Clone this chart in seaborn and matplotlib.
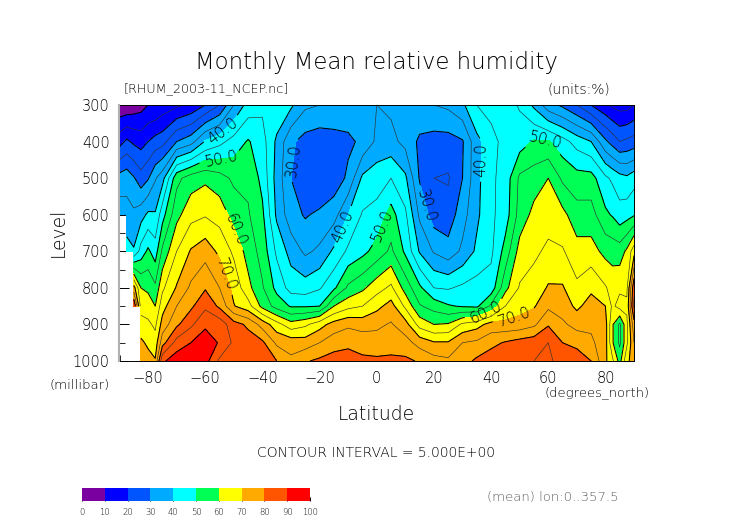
import numpy as np
import pandas as pd
import matplotlib
matplotlib.use("Agg")
import matplotlib.pyplot as plt
from matplotlib.colors import ListedColormap
import seaborn as sns

N = np.nan

# latitude of each value in the level lists below
lats = [-90, -87.5, -85, -82.5, -80, -77.5, -75, -70, -65, -60, -55, -50, -45, -40,
        -35, -30, -25, -20, -15, -10, -5, 0, 5, 10, 15, 20, 25, 30, 35, 40, 45, 50,
        55, 60, 65, 70, 75, 80, 82.5, 85, 87.5, 90]

# relative humidity (%), one list per pressure level
rh_300 = [6, 6, 7, 8, 10, 10, 12, 14, 16, 20, 25, 35, 42, 44, 44, 41, 36, 35, 34, 33, 34,
          35, 34, 35, 34, 35, 36, 39, 45, 47, 47, 44.5, 39, 32, 29, 25, 20, 16, 14, 13, 13, 15]
rh_400 = [18, 21, 19, 18, 20, 22, 23, 30, 33, 40.5, 43.5, 47, 50.5, 47, 39, 31, 28, 27, 28, 29, 31,
          36, 36.5, 33.5, 29, 28, 28, 29.5, 38.5, 43, 47, 47.5, 50.5, 50.5, 47, 43, 40, 31, 28, 25, 26, 27]
rh_500 = [32, 33, 30.5, 27, 29.5, 34.5, 38, 53.5, 57.5, 59, 57, 54, 54, 48.5, 38, 30, 26, 25, 27, 31, 41,
          43, 45, 41, 29.5, 25, 24.5, 30, 38.5, 44, 47, 56, 57.5, 60, 54, 52, 52, 46, 44, 42, 41, 43]
rh_600 = [38, 37, 36, 38, 41, 40.5, 48, 58.5, 63.3, 64.5, 63, 58, 55.5, 51, 39, 32, 29.5, 31, 33, 40, 45.5,
          46.5, 52, 46, 34, 27.5, 27, 33, 39, 44, 47.5, 57, 61.5, 63, 61.5, 57, 57, 51, 49.5, 47, 48, 49.5]
rh_700 = [N, 42, 40.5, 47, 51, 47.5, 56, 65, 70.5, 73, 68.8, 64, 58, 53, 44, 38, 34, 36, 41, 46, 48.5,
          52, 56, 49, 39.5, 34.5, 32, 36, 41, 44, 52, 62, 64, 66, 65.5, 62, 62, 58.5, 58, 57.5, 61, 68]
rh_800 = [N, N, 72, 60, 59, 56, 64, 70.5, 76, 79.5, 75, 68.5, 61.5, 55.5, 48.5, 43, 42.5, 44.5, 49, 56, 59,
          63, 66, 58, 51, 45, 44.5, 46, 47, 47, 58.5, 65.5, 67, 70.5, 70.5, 66, 69, 65.5, 63, 64, 64, 84]
rh_850 = [N, N, 85, 63, 62.5, 60, 68, 75, 79, 84, 79, 70.3, 67, 58.5, 53, 49.5, 49.5, 50, 60, 63.5, 65,
          68.5, 72, 64, 55.5, 53, 50.5, 49.5, 49, 56, 65, 68, 69.5, 74, 72.5, 69, 72, 70, 64, 67, 66, 86]
rh_900 = [N, N, N, 67, 66, 64, 72, 79, 84, 89, 88, 82, 79, 73, 67, 62, 64, 68, 72, 74, 73,
          74, 75.5, 72, 63, 60, 60.5, 66, 68, 72, 71.5, 72, 74, 79.5, 76, 73, 74, 72, 60.5, 54, 64, 78]
rh_950 = [N, N, N, 71, 69, 67, 78, 87, 90, 93, 89.5, 84, 82.5, 81, 74, 73, 72.5, 75, 78, 79, 78,
          77, 78, 77, 73, 70.5, 70.5, 75, 76, 78.5, 80.5, 82, 83, 85, 80, 79, 76, 72, 60.5, 54, 64, 75]
rh_1000 = [N, N, N, 75, 72, 70.5, 89, 93, 93, 92, 84, 83, 82, 82, 80, 76, 79.5, 81, 82, 82, 81,
           81, 81, 81, 79.5, 77, 76, 78, 81, 83, 84, 85, 85, 86, 83, 82, 80, 71, 66, 58, 69, 72]

plevs = [300, 400, 500, 600, 700, 800, 850, 900, 950, 1000]
band_colors = ["#7a00a0", "#0000ff", "#0055ff", "#00aaff", "#00ffff",
               "#00ff55", "#ffff00", "#ffaa00", "#ff5500", "#ff0000"]
bar_labels = [0, 10, 20, 30, 40, 50, 60, 70, 80, 90, 100]

sns.set_theme(style="white")
plt.rcParams["font.family"] = ["DejaVu Sans"]
plt.rcParams["font.weight"] = "ultralight"
W, H = 752, 532
txt = "black"

df = pd.DataFrame([rh_300, rh_400, rh_500, rh_600, rh_700, rh_800, rh_850, rh_900, rh_950, rh_1000],
                  index=plevs, columns=lats)
Z = np.ma.masked_invalid(df.values)


def ptext(x, y, s, size, **kw):
    # place text by pixel position in the 752x532 picture
    kw.setdefault("color", txt)
    kw.setdefault("va", "center")
    kw.setdefault("ha", "center")
    fig.text(x / W, 1 - y / H, s, fontsize=size, **kw)


fig = plt.figure(figsize=(W / 100, H / 100), dpi=100)
ax = fig.add_axes([119.5 / W, 1 - 361 / H, 514.5 / W, 256 / H])

# limits first: clabel works out its rotation from the axes as they are at that moment
ax.set_xlim(-90, 90)
ax.set_ylim(1000, 300)

# corner_mask off so the missing data near the south pole stays in square steps
ax.contourf(df.columns, df.index, Z, levels=np.arange(0, 101, 10), colors=band_colors, corner_mask=False)
# black on the tens, thinner grey on the fives
ax.contour(df.columns, df.index, Z, levels=np.arange(5, 100, 10), colors="#303030", linewidths=0.45,
           corner_mask=False)
ax.contour(df.columns, df.index, Z, levels=[10, 20, 80, 90], colors="black", linewidths=0.75, corner_mask=False)
cs = ax.contour(df.columns, df.index, Z, levels=[30, 40, 50, 60, 70], colors="black", linewidths=0.75,
                corner_mask=False)
ax.clabel(cs, fmt="%.1f", fontsize=11, colors=txt, inline=True,
          manual=[(-55, 364), (-54.8, 437), (-30, 450), (-11.7, 632), (1.5, 628), (16.7, 578),
                  (36.5, 450), (58.7, 405), (-50, 642), (-52, 760), (38, 865), (48, 879)])

ax.set_xticks(np.arange(-80, 81, 20))
ax.set_xticks(np.arange(-90, 91, 10), minor=True)
ax.set_yticks(np.arange(300, 1001, 100))
ax.set_yticks(np.arange(350, 1000, 100), minor=True)
ax.tick_params(which="major", direction="in", length=7, width=0.7, color="black",
               top=True, right=True, bottom=True, left=True, labelsize=10.5,
               labelcolor=txt, pad=7)
ax.tick_params(which="minor", direction="in", length=4, width=0.6, color="black",
               top=True, right=True, bottom=True, left=True)
for side in ax.spines.values():
    side.set_color("black")
    side.set_linewidth(0.7)
ax.spines["left"].set_color("#b0b0b0")
ax.spines["left"].set_linewidth(1.5)

# colour bar: one row of cells, one per band
bar_ax = fig.add_axes([82 / W, 1 - 501 / H, 228 / W, 13 / H])
mids = np.array(bar_labels[:-1]) + 5
sns.heatmap(pd.DataFrame([mids]), ax=bar_ax, cmap=ListedColormap(band_colors), vmin=0, vmax=100,
            cbar=False, xticklabels=False, yticklabels=False)
bar_ax.set_xticks(np.arange(len(bar_labels)))
bar_ax.set_xticklabels(bar_labels, fontsize=6, color=txt, rotation=0)
bar_ax.tick_params(axis="x", direction="in", length=3, width=0.7, color="black", pad=5, bottom=True)

ptext(376, 62, "Monthly Mean relative humidity", 16.5)
ptext(124, 89, "[RHUM_2003-11_NCEP.nc]", 9.2, ha="left")
ptext(610, 89, "(units:%)", 10, ha="right")
ptext(58, 232, "Level", 13.5, rotation=90)
ptext(110, 385, "(millibar)", 9.5, ha="right")
ptext(376, 415, "Latitude", 13.5)
ptext(650, 393, "(degrees_north)", 9.5, ha="right")
ptext(376, 453, "CONTOUR INTERVAL = 5.000E+00", 10)
ptext(619, 497, "(mean) lon:0..357.5", 9.5, ha="right", color="#606060")

fig.savefig("out.png", dpi=100)
